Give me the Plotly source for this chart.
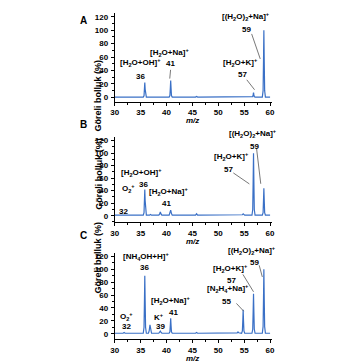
import plotly.graph_objects as go

# ---------------- data ----------------
mz_a = [30, 35.5, 35.65, 35.73, 35.8, 35.87, 35.95, 36.1, 40.5, 40.65, 40.73, 40.8, 40.87, 40.95, 41.1,
        45.6, 45.8, 46.0, 54.6, 54.8, 55.0, 56.5, 56.65, 56.73, 56.8, 56.87, 56.95, 57.1,
        58.5, 58.65, 58.73, 58.8, 58.87, 58.95, 59.1, 60]
int_a = [0.5, 0.5, 2.5, 12, 22, 12, 2.5, 0.5, 0.5, 2.8, 14, 25, 14, 2.8, 0.5,
         0.5, 1.5, 0.5, 0.5, 1.5, 0.5, 0.5, 1.2, 4, 7, 4, 1.2, 0.5,
         0.5, 10, 55, 100, 55, 10, 0.5, 0.5]

mz_b = [30, 31.8, 32.0, 32.2, 35.5, 35.65, 35.73, 35.8, 35.87, 35.95, 36.1, 36.7, 36.9, 37.1,
        38.5, 38.65, 38.8, 38.95, 39.1, 40.5, 40.65, 40.8, 40.95, 41.1, 45.6, 45.8, 46.0,
        54.5, 54.65, 54.8, 54.95, 55.1, 56.5, 56.65, 56.73, 56.8, 56.87, 56.95, 57.1,
        58.5, 58.65, 58.73, 58.8, 58.87, 58.95, 59.1, 60]
int_b = [0.8, 0.8, 1.2, 0.8, 0.8, 5, 24, 42, 24, 5, 0.8, 0.8, 2, 0.8,
         0.8, 2.5, 6, 2.5, 0.8, 0.8, 3.5, 9, 3.5, 0.8, 0.8, 3, 0.8,
         0.8, 1.5, 3, 1.5, 0.8, 0.8, 10, 55, 100, 55, 10, 0.8,
         0.8, 5, 25, 44, 25, 5, 0.8, 0.8]

mz_c = [30, 31.6, 31.8, 32.0, 35.5, 35.65, 35.73, 35.8, 35.87, 35.95, 36.1, 36.5, 36.65, 36.8, 36.95, 37.1,
        38.5, 38.65, 38.8, 38.95, 39.1, 40.5, 40.65, 40.73, 40.8, 40.87, 40.95, 41.1, 45.6, 45.8, 46.0,
        53.5, 53.65, 53.8, 53.95, 54.5, 54.65, 54.73, 54.8, 54.87, 54.95, 55.1,
        56.5, 56.65, 56.73, 56.8, 56.87, 56.95, 57.1, 58.5, 58.65, 58.73, 58.8, 58.87, 58.95, 59.1, 60]
int_c = [0.8, 0.8, 2, 0.8, 0.8, 10, 50, 90, 50, 10, 0.8, 0.8, 5, 14, 5, 0.8,
         0.8, 2, 4, 2, 0.8, 0.8, 3, 13, 24, 13, 3, 0.8, 0.8, 2, 0.8,
         0.8, 1.5, 3, 1.5, 0.8, 4.5, 20, 37, 20, 4.5, 0.8,
         0.8, 7, 34, 62, 34, 7, 0.8, 0.8, 11, 55, 100, 55, 11, 0.8, 0.8]

x_ticks = [30, 35, 40, 45, 50, 55, 60]
y_ticks = [0, 20, 40, 60, 80, 100, 120]
panel_letters = ["A", "B", "C"]
y_title = "Göreli bolluk (%)"
x_title = "m/z"

# labels: (text, x, y, extra upward shift in px)
labels_a = [("[H<sub>2</sub>O+OH]<sup>+</sup>", 35.06, 51.4, 0), ("36", 35.06, 30.7, 0),
            ("[H<sub>2</sub>O+Na]<sup>+</sup>", 40.5, 66.2, 0), ("41", 40.7, 49.9, 0),
            ("[H<sub>2</sub>O+K]<sup>+</sup>", 54.2, 51.4, 0), ("57", 54.75, 33.6, 0),
            ("[(H<sub>2</sub>O)<sub>2</sub>+Na]<sup>+</sup>", 55.4, 120, 0.7), ("59", 55.5, 100.3, 0)]
lines_a = [(40.78, 41, 40.62, 28), (55.5, 26.2, 57.0, 11.4), (56.44, 94.4, 58.1, 57.3)]

labels_b = [("O<sub>2</sub><sup>+</sup>", 32.6, 44, 0), ("32", 31.7, 7.3, 0),
            ("[H<sub>2</sub>O+OH]<sup>+</sup>", 35.25, 69.5, 0), ("36", 35.6, 49.4, 0),
            ("[H<sub>2</sub>O+Na]<sup>+</sup>", 40.3, 38.7, 0), ("41", 39.9, 19.1, 0),
            ("[H<sub>2</sub>O+K]<sup>+</sup>", 52.5, 95, 0), ("57", 51.9, 74.5, 0),
            ("[(H<sub>2</sub>O)<sub>2</sub>+Na]<sup>+</sup>", 56.7, 120, 6.7), ("59", 56.9, 110.9, 0)]
lines_b = [(52.9, 68.4, 56.0, 50.8), (57.4, 106.8, 58.2, 51)]

labels_c = [("O<sub>2</sub><sup>+</sup>", 32.25, 27.3, 0), ("32", 32.25, 10.8, 0),
            ("[NH<sub>4</sub>OH+H]<sup>+</sup>", 36.0, 120, 0), ("36", 35.8, 102, 0),
            ("K<sup>+</sup>", 38.6, 26.3, 0), ("39", 38.9, 10.8, 0),
            ("[H<sub>2</sub>O+Na]<sup>+</sup>", 40.8, 51, 0), ("41", 41.3, 32.4, 0),
            ("[N<sub>2</sub>H<sub>4</sub>+Na]<sup>+</sup>", 51.8, 70.1, 0), ("55", 51.6, 50.5, 0),
            ("[H<sub>2</sub>O+K]<sup>+</sup>", 52.4, 101, 0), ("57", 52.6, 82.9, 0),
            ("[(H<sub>2</sub>O)<sub>2</sub>+Na]<sup>+</sup>", 56.6, 120, 6.0), ("59", 56.9, 109.7, 0)]
lines_c = [(53.5, 47, 54.9, 35), (54.75, 92, 56.8, 65), (57.9, 106, 58.5, 88)]

# ---------------- layout ----------------
W, H = 356, 364
FONT = "Liberation Sans, Arial, sans-serif"
LINE_COLOR = "#3a70c6"
x_dom = [113 / W, 273 / W]
panels = [
    dict(mz=mz_a, inten=int_a, labels=labels_a, lines=lines_a, ytop=11.7, ybot=101, yr=[-6.4, 126],
         ytitle_c=56.5, letter_y=12),
    dict(mz=mz_b, inten=int_b, labels=labels_b, lines=lines_b, ytop=136, ybot=221.7, yr=[-10.2, 126.4],
         ytitle_c=173, letter_y=124),
    dict(mz=mz_c, inten=int_c, labels=labels_c, lines=lines_c, ytop=252.3, ybot=339, yr=[-8.2, 125.7],
         ytitle_c=295, letter_y=243),
]

fig = go.Figure()
annotations = []
shapes = []
tickfont = dict(family=FONT, size=8, color="black", weight="bold")

for i, p in enumerate(panels):
    n = "" if i == 0 else str(i + 1)
    xa, ya = "x" + n, "y" + n
    fig.add_trace(go.Scatter(x=p["mz"], y=p["inten"], mode="lines", xaxis=xa, yaxis=ya,
                             line=dict(color=LINE_COLOR, width=1.2), showlegend=False, hoverinfo="skip"))
    axis_common = dict(showline=True, linecolor="black", linewidth=1, ticks="outside", ticklen=3,
                       tickwidth=1, tickcolor="black", showgrid=False, zeroline=False, tickfont=tickfont)
    fig.layout["xaxis" + n] = dict(domain=x_dom, range=[30, 60.3], anchor=ya, tickvals=x_ticks,
                                   minor=dict(ticks="outside", ticklen=2, tickcolor="black", dtick=2.5, tick0=30, showgrid=False),
                                   ticklabelstandoff=0, **axis_common)
    fig.layout["yaxis" + n] = dict(domain=[1 - p["ybot"] / H, 1 - p["ytop"] / H], range=p["yr"], anchor=xa,
                                   tickvals=y_ticks,
                                   minor=dict(ticks="outside", ticklen=2, tickcolor="black", dtick=10, tick0=0, showgrid=False),
                                   ticklabelstandoff=1, **axis_common)
    for txt, x, y, ys in p["labels"]:
        annotations.append(dict(text=txt, x=x, y=y, yshift=ys, xref=xa, yref=ya, showarrow=False,
                                font=dict(family=FONT, size=8, color="black", weight="bold")))
    for x0, y0, x1, y1 in p["lines"]:
        shapes.append(dict(type="line", xref=xa, yref=ya, x0=x0, y0=y0, x1=x1, y1=y1,
                           line=dict(color="#555555", width=0.8)))
    # y axis title
    annotations.append(dict(text=y_title, x=89 / W, y=1 - p["ytitle_c"] / H, xref="paper", yref="paper",
                            showarrow=False, textangle=-90,
                            font=dict(family=FONT, size=9, color="black", weight="bold")))
    # x axis title (top edge just below the tick labels)
    annotations.append(dict(text="<i>" + x_title + "</i>", x=192 / W, y=1 - (p["ybot"] + 13.5) / H,
                            xref="paper", yref="paper", showarrow=False, yanchor="top", borderpad=0,
                            font=dict(family=FONT, size=8, color="black", weight="bold")))
    # panel letter
    annotations.append(dict(text=panel_letters[i], x=75 / W, y=1 - p["letter_y"] / H, xref="paper", yref="paper",
                            showarrow=False, font=dict(family=FONT, size=10, color="black", weight="bold")))

fig.update_layout(width=W, height=H, margin=dict(l=0, r=0, t=0, b=0), paper_bgcolor="white",
                  plot_bgcolor="white", annotations=annotations, shapes=shapes, showlegend=False)
fig.write_html("out.html", config={"displayModeBar": False})

# remove default page margin so the figure sits at the window's top-left corner
with open("out.html", encoding="utf-8") as f:
    html = f.read()
html = html.replace("<head>", "<head><style>html,body{margin:0;padding:0;overflow:hidden;}</style>", 1)
with open("out.html", "w", encoding="utf-8") as f:
    f.write(html)
